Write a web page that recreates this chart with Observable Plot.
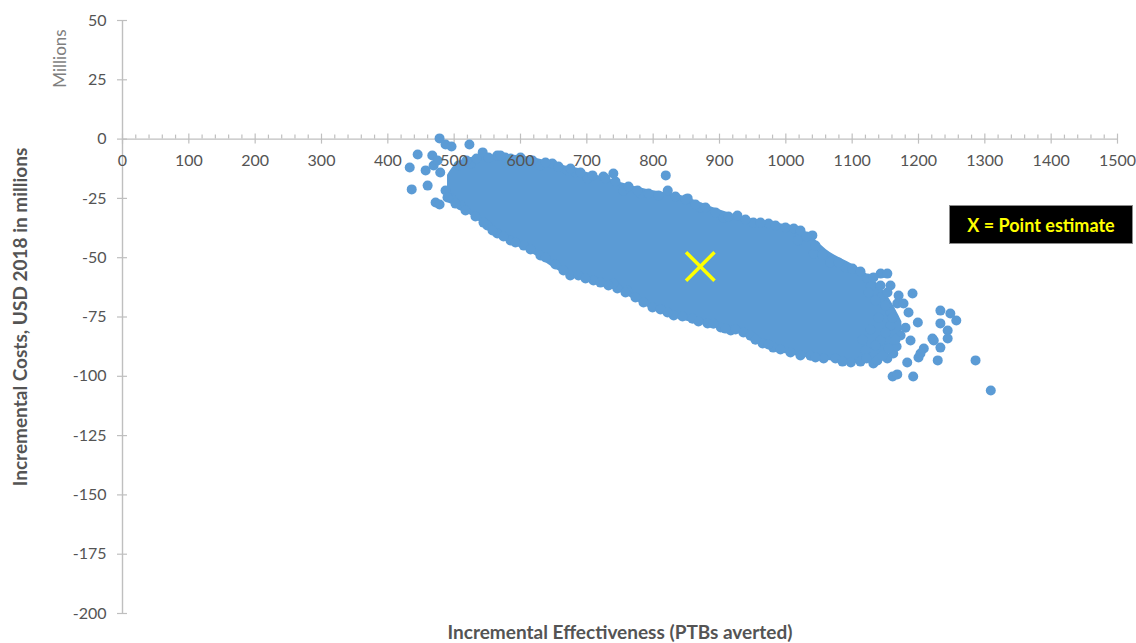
<!DOCTYPE html>
<html><head><meta charset="utf-8">
<script src="https://cdn.jsdelivr.net/npm/d3@7"></script>
<script src="https://cdn.jsdelivr.net/npm/@observablehq/plot@0.6"></script>
<style>
body{margin:0;background:#fff;}
#wrap{position:relative;width:1136px;height:643px;font-family:Lato,"Open Sans",sans-serif;}
#legend{position:absolute;left:949px;top:205px;width:182px;height:37px;background:#000;border:1px solid #8c8c8c;color:#ffff00;font-weight:bold;font-size:18px;display:flex;align-items:center;justify-content:center;font-family:Lato,"Open Sans",sans-serif;}
</style></head><body><div id="wrap"></div>
<script>
// Simulated ICER points (outlying and edge points)
const effX = [478,523,543,487,496,445,467,433,436,457,469,479,475,460,472,478,648,630,565,819,822,852,740,725,701,671,755,781,871,906,927,951,974,1012,1040,1018,1042,1070,1090,1143,1153,1123,1128,1143,1170,1191,1168,1185,1158,1233,1248,1257,1233,1244,1199,1188,1244,1221,1233,1229,1286,1309,1192,1161,1168,1183,1200,1208,1153,1132,1098,1057,1022,965,917,882,831,799,746,710,675,630,605,585,565,550,510,936,902,981,1203,1223,1138,1162,1067,740,761,1158,1173,1167,1143,1120,525,577,600,683,495,487,
  506.5,518.6,533.7,551.7,569.8,584.9,600.0,618.1,637.7,657.3,675.4,690.4,708.5,728.1,743.2,762.8,776.4,793.0,808.0,833.6,848.7,863.8,878.9,893.9,913.5,939.2,961.8,984.4,999.5,1022.1,1031.1,1044.7,1055.3,1079.4,1100.5,1112.5,1132.1,1142.7,1153.2,
  489.9,502.0,517.1,532.1,544.2,557.8,574.4,592.4,615.1,637.7,652.7,664.8,687.4,698.0,720.6,732.6,758.3,773.3,785.4,811.0,821.6,844.2,859.3,868.3,890.9,909.0,924.1,946.7,954.2,973.8,991.9,1007.0,1037.2,1044.7,1074.8,1085.4,1112.5,1121.6,1145.7,
  1135.2,1150.2,1139.7,1160.8,1127.6,1150.2,1165.3,1135.2,1154.7,1180.4,1177.4,1115.6,1124.6,1157.8];
const costY = [0.3,-2.3,-5.6,-2.3,-3.1,-6.5,-6.9,-12.0,-21.2,-13.2,-11.1,-14.1,-9.0,-19.6,-26.7,-27.6,-10.3,-11.1,-6.9,-15.3,-21.7,-25.0,-14.5,-15.8,-16.6,-13.2,-21.7,-22.9,-28.8,-33.1,-32.2,-35.2,-35.6,-37.7,-40.6,-42.7,-48.2,-51.2,-54.1,-56.7,-56.7,-58.8,-62.1,-66.8,-65.9,-65.1,-69.3,-73.1,-73.1,-72.3,-73.5,-76.5,-77.7,-80.7,-77.3,-84.9,-84.1,-84.1,-87.9,-93.3,-93.3,-106.0,-100.1,-100.1,-99.2,-94.2,-92.1,-88.3,-92.5,-94.6,-94.2,-92.5,-91.2,-86.2,-80.7,-77.7,-74.4,-71.0,-63.0,-59.6,-57.5,-49.1,-44.9,-42.7,-39.8,-36.4,-28.0,-81.5,-79.4,-87.9,-90.4,-84.9,-93.3,-90.4,-52.0,-60.9,-63.8,-78.6,-82.8,-87.4,-84.9,-89.1,-10.3,-7.8,-8.2,-14.1,-25.0,-21.7,
  -11.1,-9.0,-8.2,-7.8,-6.9,-8.2,-7.8,-9.0,-9.9,-11.6,-12.4,-14.1,-15.3,-16.6,-17.9,-20.0,-21.7,-22.9,-23.8,-24.2,-25.5,-27.6,-28.8,-30.9,-32.6,-33.9,-35.2,-36.4,-37.3,-38.5,-41.1,-44.9,-48.7,-52.0,-54.6,-55.8,-58.3,-61.7,-64.7,
  -24.6,-27.2,-30.1,-32.6,-35.2,-38.5,-41.1,-43.6,-46.5,-49.9,-52.9,-55.4,-57.5,-58.8,-60.5,-61.7,-64.7,-66.8,-68.9,-71.8,-73.1,-74.8,-75.7,-76.9,-77.8,-79.9,-80.3,-82.9,-84.6,-86.6,-88.7,-90.0,-91.3,-92.1,-92.5,-93.8,-93.8,-92.5,-91.3,
  -68.0,-70.2,-75.3,-75.3,-80.3,-81.6,-84.6,-87.0,-88.3,-79.5,-69.3,-84.6,-64.7,-61.7];

// Dense core of the point cloud (upper / lower envelope)
const coreX      = [490,505,525,540,570,615,660,706,751,796,841,886,932,977,1022,1067,1113,1143,1162,1175];
const coreTop    = [-15.3,-9.9,-7.8,-7.3,-6.5,-7.7,-10.7,-14.5,-18.3,-21.6,-23.7,-28.4,-32.6,-35.1,-37.7,-47.8,-54.9,-62.5,-70.0,-77.0];
const coreBottom = [-23.8,-28.0,-32.2,-35.2,-41.9,-47.8,-55.9,-60.5,-64.7,-71.5,-76.1,-79.0,-82.4,-88.7,-91.7,-93.4,-94.6,-93.0,-89.0,-84.0];

// Point estimate
const estX = [871];
const estY = [-53.7];

// Axis ticks
const xTicks = [0,100,200,300,400,500,600,700,800,900,1000,1100,1200,1300,1400,1500];
const xMinor = d3.range(0, 1501, 20).filter(v => v % 100 !== 0);
const yTicks = [50,25,0,-25,-50,-75,-100,-125,-150,-175,-200];

const dots = effX.map((x, i) => ({x, y: costY[i]}));
const core = coreX.map((x, i) => ({x, top: coreTop[i], bottom: coreBottom[i]}));
const est = estX.map((x, i) => ({x, y: estY[i]}));

const BLUE = "#5b9bd5";
const AXIS = "#bfbfbf";
const TXT = "#545454";
const FONT = "Lato, 'Open Sans', sans-serif";

const chart = Plot.plot({
  width: 1136,
  height: 643,
  marginLeft: 122,
  marginRight: 19,
  marginTop: 20,
  marginBottom: 30,
  style: {fontFamily: FONT, background: "#fff"},
  x: {domain: [0, 1500], axis: null},
  y: {domain: [-200, 50], axis: null},
  marks: [
    Plot.ruleX([0], {stroke: AXIS, strokeWidth: 1.4}),
    Plot.ruleY([0], {stroke: AXIS, strokeWidth: 1.4}),
    Plot.ruleX(xTicks, {x: d => d, y1: 0, y2: 0, insetTop: -5, insetBottom: -5, stroke: AXIS, strokeWidth: 1.2}),
    Plot.ruleX(xMinor, {x: d => d, y1: 0, y2: 0, insetTop: -4, insetBottom: 0, stroke: AXIS, strokeWidth: 1.2}),
    Plot.ruleY(yTicks, {y: d => d, x1: 0, x2: 0, insetLeft: -5, insetRight: -5, stroke: AXIS, strokeWidth: 1.2}),
    Plot.text(["Incremental Costs, USD 2018 in millions"], {frameAnchor: "left", dx: -102, rotate: -90, textAnchor: "middle", lineAnchor: "middle", fill: TXT, fontSize: 19, fontWeight: "bold", fontFamily: FONT}),
    Plot.text(["Millions"], {frameAnchor: "top-left", dx: -62, dy: 38, rotate: -90, textAnchor: "middle", lineAnchor: "middle", fill: "#7f7f7f", fontSize: 17, fontFamily: FONT}),
    Plot.text(["Incremental Effectiveness (PTBs averted)"], {frameAnchor: "bottom", dy: 19, lineAnchor: "middle", fill: TXT, fontSize: 19, fontWeight: "bold", fontFamily: FONT}),
    Plot.areaY(core, {x: "x", y1: "bottom", y2: "top", fill: BLUE, curve: "catmull-rom"}),
    Plot.dot(dots, {x: "x", y: "y", r: 5, fill: BLUE}),
    Plot.dot(est, {x: "x", y: "y", symbol: "times", r: 13, stroke: "#ffff00", strokeWidth: 3.5}),
    Plot.text(xTicks, {x: d => d, y: 0, dy: 22, text: d => String(d), fill: TXT, fontSize: 16, fontFamily: FONT}),
    Plot.text(yTicks, {x: 0, y: d => d, dx: -16, textAnchor: "end", text: d => String(d), fill: TXT, fontSize: 16, fontFamily: FONT})
  ]
});

const wrap = document.getElementById("wrap");
wrap.appendChild(chart);
const legend = document.createElement("div");
legend.id = "legend";
legend.textContent = "X = Point estimate";
wrap.appendChild(legend);
</script>
</body></html>
